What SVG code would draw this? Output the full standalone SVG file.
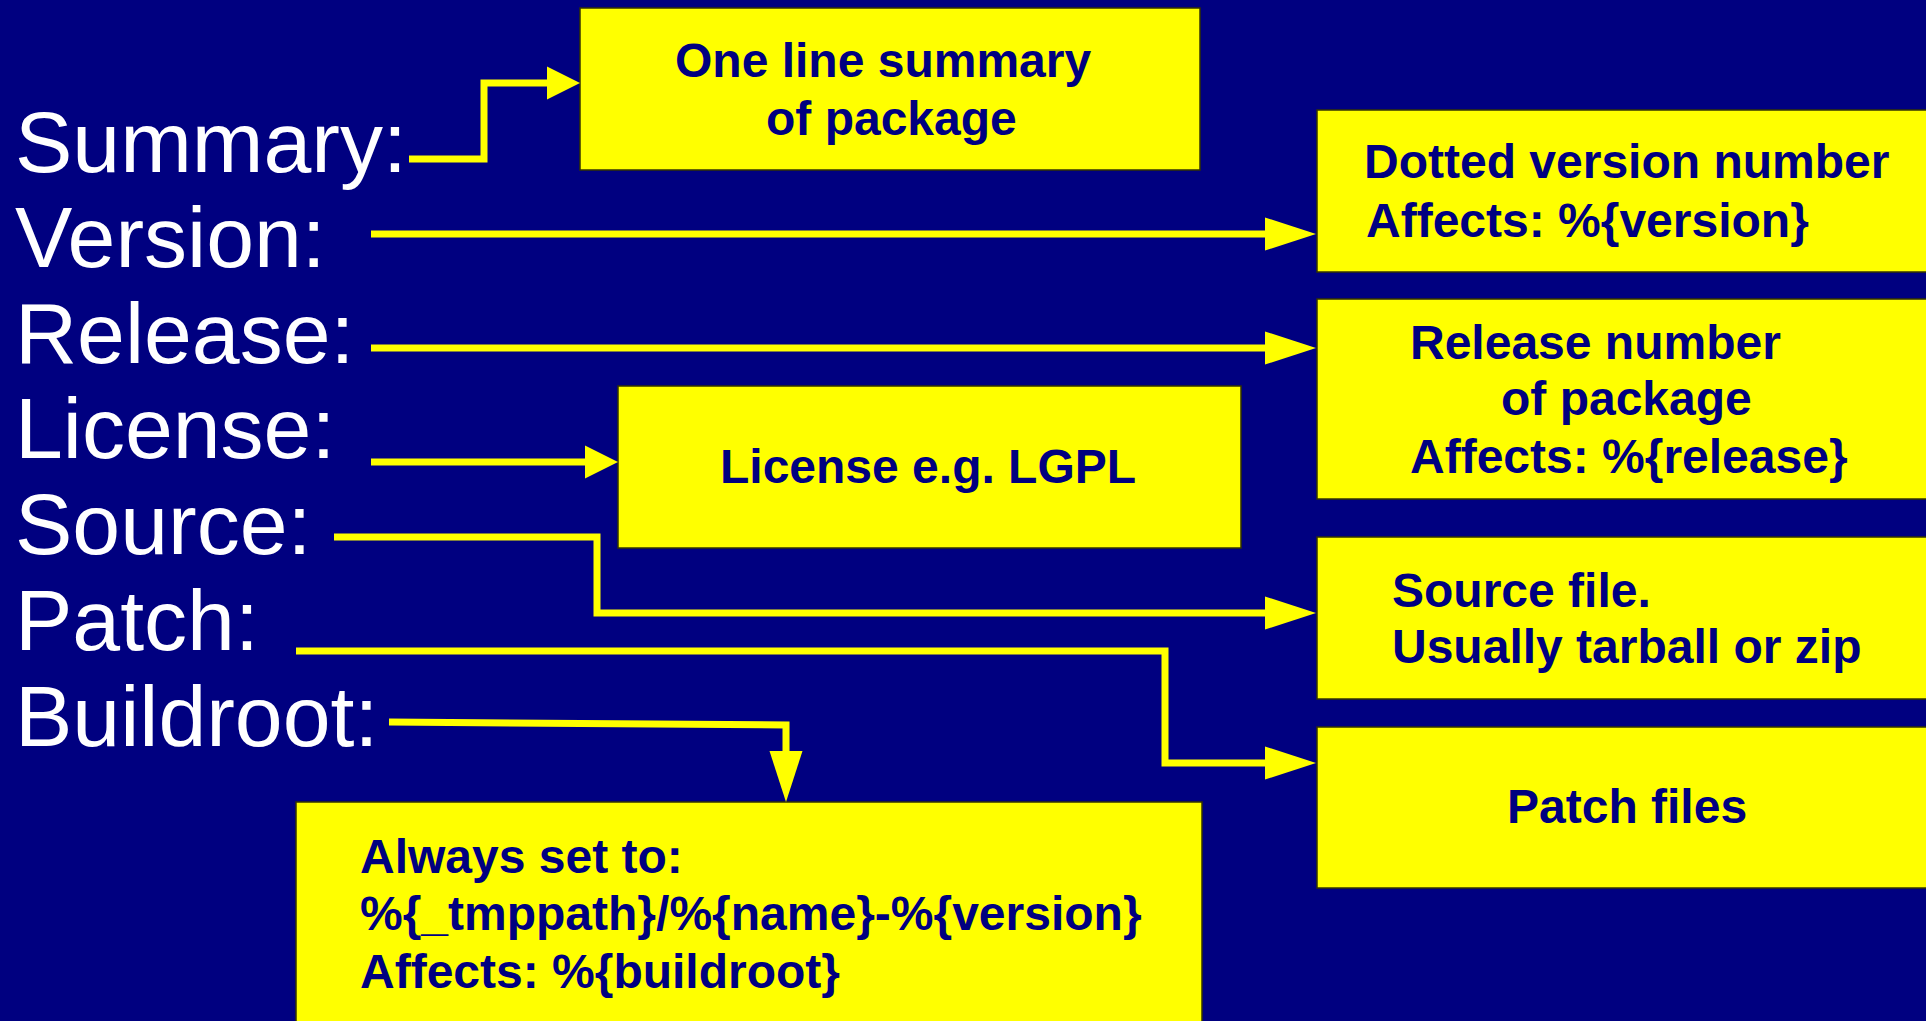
<svg xmlns="http://www.w3.org/2000/svg" width="1926" height="1021" viewBox="0 0 1926 1021">
<style>
.bg{fill:#000080}
.box{fill:#ffff00;stroke:#333300;stroke-width:1.5}
.lbl{fill:#ffffff;font-family:"Liberation Sans",Arial,sans-serif;font-size:86px}
.txt{fill:#000080;font-family:"Liberation Sans",Arial,sans-serif;font-size:48px;font-weight:bold}
.con{fill:none;stroke:#ffff00;stroke-width:7;stroke-linejoin:miter}
</style>
<defs>
<marker id="big" markerUnits="userSpaceOnUse" markerWidth="52" markerHeight="34" refX="0" refY="16.5" orient="auto" overflow="visible">
<path d="M0,0 L51,16.5 L0,33 z" fill="#ffff00"/>
</marker>
<marker id="small" markerUnits="userSpaceOnUse" markerWidth="34" markerHeight="34" refX="0" refY="16.5" orient="auto" overflow="visible">
<path d="M0,0 L33,16.5 L0,33 z" fill="#ffff00"/>
</marker>
</defs>
<rect class="bg" x="0" y="0" width="1926" height="1021"/>
<g id="labels">
<text class="lbl" x="15" y="172">Summary:</text>
<text class="lbl" x="15" y="267">Version:</text>
<text class="lbl" x="15" y="363">Release:</text>
<text class="lbl" x="15" y="458">License:</text>
<text class="lbl" x="15" y="554">Source:</text>
<text class="lbl" x="15" y="650">Patch:</text>
<text class="lbl" x="15" y="746">Buildroot:</text>
</g>
<g id="summary-box">
<rect class="box" x="580" y="8" width="620" height="162"/>
<text class="txt" x="675" y="77">One line summary</text>
<text class="txt" x="766" y="135">of package</text>
</g>
<g id="version-box">
<rect class="box" x="1317" y="110" width="640" height="162"/>
<text class="txt" x="1364" y="178">Dotted version number</text>
<text class="txt" x="1366" y="237">Affects: %{version}</text>
</g>
<g id="release-box">
<rect class="box" x="1317" y="299" width="640" height="200"/>
<text class="txt" x="1410" y="359">Release number</text>
<text class="txt" x="1501" y="415">of package</text>
<text class="txt" x="1410" y="473">Affects: %{release}</text>
</g>
<g id="license-box">
<rect class="box" x="618" y="386" width="623" height="162"/>
<text class="txt" x="720" y="483">License e.g. LGPL</text>
</g>
<g id="source-box">
<rect class="box" x="1317" y="537" width="640" height="162"/>
<text class="txt" x="1392" y="607">Source file.</text>
<text class="txt" x="1392" y="663">Usually tarball or zip</text>
</g>
<g id="patch-box">
<rect class="box" x="1317" y="727" width="640" height="161"/>
<text class="txt" x="1507" y="823">Patch files</text>
</g>
<g id="buildroot-box">
<rect class="box" x="296" y="802" width="906" height="240"/>
<text class="txt" x="360" y="873">Always set to:</text>
<text class="txt" x="360" y="930">%{_tmppath}/%{name}-%{version}</text>
<text class="txt" x="360" y="988">Affects: %{buildroot}</text>
</g>
<g id="connectors">
<path class="con" d="M409,159 H484 V83 H547" marker-end="url(#small)"/>
<path class="con" d="M371,234 H1265" marker-end="url(#big)"/>
<path class="con" d="M371,348 H1265" marker-end="url(#big)"/>
<path class="con" d="M371,462 H585" marker-end="url(#small)"/>
<path class="con" d="M334,537 H597 V613 H1265" marker-end="url(#big)"/>
<path class="con" d="M296,651 H1165 V763 H1265" marker-end="url(#big)"/>
<path class="con" d="M389,722 L786,725 V751" marker-end="url(#big)"/>
</g>
</svg>
